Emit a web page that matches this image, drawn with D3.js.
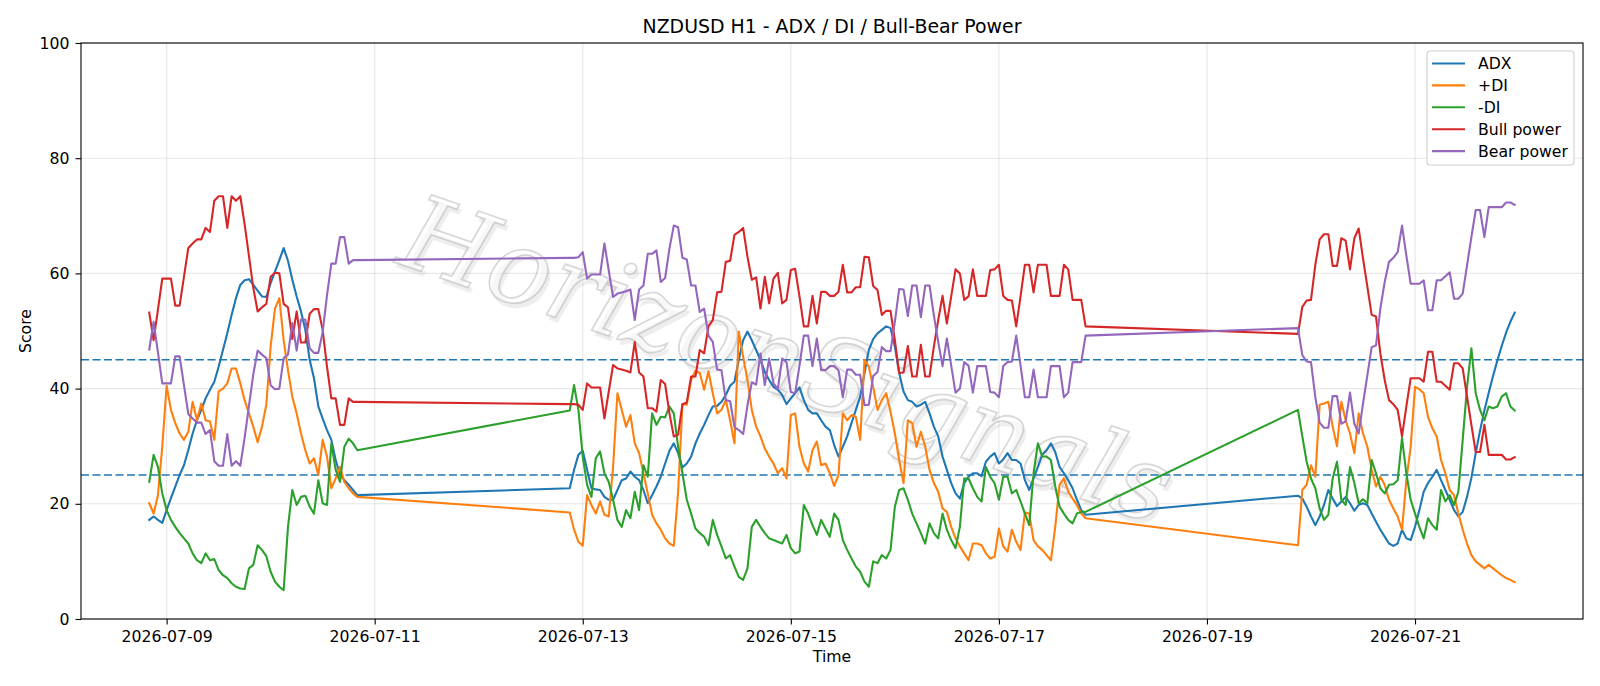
<!DOCTYPE html>
<html>
<head>
<meta charset="utf-8">
<script src="https://cdn.jsdelivr.net/npm/d3@7/dist/d3.min.js"></script>
<style>
  body { margin: 0; background: #fff; }
  svg { display: block; font-family: "DejaVu Sans", sans-serif; }
</style>
</head>
<body>
<div id="chart"></div>
<script>
// hourly bars, three trading sessions (weekend gaps in between)
var sessions = [
    { start: '2026-07-08T20:00:00Z', hours: 49 },
    { start: '2026-07-12T21:00:00Z', hours: 120 },
    { start: '2026-07-19T21:00:00Z', hours: 51 }
];

var adx = [
    17.2, 17.8, 17.2, 16.7, 18.9, 21.0, 23.0, 25.0, 26.7, 29.3, 32.2, 34.5, 36.3, 38.3, 39.8, 41.2, 43.8, 46.7, 49.6, 52.8,
    55.7, 58.0, 58.8, 59.0, 58.0, 57.0, 56.0, 55.9, 58.3, 60.3, 62.3, 64.4, 62.2, 58.9, 56.0, 53.4, 50.2, 45.0, 41.8, 36.9,
    34.8, 32.8, 31.1, 27.6, 25.0, 24.1, 23.3, 22.4, 21.5,
    22.7, 25.9, 28.5, 29.2, 25.9, 22.7, 22.5, 22.4, 21.2, 20.7, 20.7, 22.4, 24.1, 24.4, 25.6, 24.7, 24.1, 22.4, 20.1, 21.5,
    23.0, 24.7, 27.0, 29.2, 30.5, 28.8, 26.3, 27.0, 28.2, 30.5, 32.2, 33.7, 35.4, 36.9, 37.0, 37.7, 38.9, 40.5, 41.2, 45.0,
    48.4, 49.9, 48.4, 46.7, 45.0, 42.9, 41.5, 40.3, 39.8, 38.9, 37.3, 38.3, 39.2, 40.2, 38.0, 36.3, 35.7, 35.7, 34.5, 33.4,
    32.8, 30.2, 28.2, 29.9, 31.7, 34.0, 36.3, 38.6, 42.7, 46.7, 48.6, 49.6, 50.2, 50.8, 50.5, 47.3, 42.7, 39.5, 38.0, 37.7,
    36.9, 37.2, 37.7, 35.7, 33.4, 31.7, 28.2, 25.9, 23.6, 21.8, 20.9, 23.6, 24.7, 25.3, 25.3, 24.8, 27.3, 28.2, 28.8, 27.0,
    27.7, 28.8, 27.6, 27.6, 27.0, 24.1, 22.4, 24.4, 26.4, 28.5, 29.3, 30.5, 29.0, 26.4, 25.3, 24.1, 22.7, 20.7, 18.9, 18.1,
    21.4, 20.9, 19.5, 17.8, 16.3, 17.8, 19.8, 22.4, 20.9, 19.6, 20.4, 21.2, 20.1, 18.8, 19.8, 20.1, 19.8, 18.3, 16.9, 15.5,
    14.3, 13.1, 12.7, 13.1, 15.5, 14.0, 13.7, 16.0, 18.9, 22.1, 23.6, 24.7, 25.9, 24.1, 22.4, 20.7, 18.9, 17.8, 18.6, 21.2,
    24.5, 28.8, 32.7, 36.2, 39.3, 42.2, 44.9, 47.4, 49.7, 51.6, 53.2
];

var plusDI = [
    20.1, 18.3, 21.5, 29.9, 40.5, 36.3, 34.0, 32.2, 31.1, 32.5, 37.7, 34.5, 37.4, 34.5, 34.3, 31.1, 39.5, 40.0, 40.9, 43.5,
    43.5, 40.9, 38.0, 35.7, 33.4, 30.7, 33.4, 37.2, 47.3, 53.9, 55.7, 48.4, 43.2, 38.6, 35.7, 32.2, 29.3, 27.0, 27.9, 25.0,
    31.1, 28.2, 22.7, 24.4, 26.4, 23.8, 22.7, 21.8, 21.2,
    18.5, 15.5, 13.4, 12.7, 21.5, 19.8, 18.3, 20.4, 18.1, 17.8, 26.4, 39.2, 36.3, 33.4, 35.4, 30.5, 28.8, 25.3, 21.8, 18.1,
    16.6, 15.5, 14.0, 13.1, 12.7, 22.0, 37.3, 37.2, 41.5, 43.1, 42.7, 39.8, 43.0, 39.2, 35.7, 36.3, 38.0, 34.5, 30.5, 49.9,
    45.5, 41.5, 36.3, 33.4, 31.7, 29.6, 28.2, 27.0, 25.3, 26.2, 24.4, 35.4, 35.7, 29.9, 27.0, 25.6, 29.3, 30.8, 26.7, 27.0,
    25.3, 23.1, 25.0, 35.7, 34.5, 35.4, 35.1, 31.1, 45.0, 43.8, 40.3, 36.3, 38.0, 39.2, 36.0, 32.2, 27.6, 23.6, 34.5, 34.0,
    29.9, 32.5, 29.9, 25.9, 23.6, 22.1, 19.2, 18.6, 16.0, 14.0, 12.6, 11.4, 10.2, 13.1, 13.1, 12.8, 11.4, 10.5, 10.8, 15.7,
    12.6, 11.7, 15.5, 13.4, 12.0, 18.5, 18.3, 13.7, 12.6, 12.0, 11.1, 10.2, 16.0, 23.3, 24.4, 22.1, 20.9, 19.8, 18.3, 17.5,
    12.8, 22.4, 23.3, 26.7, 24.7, 37.2, 37.4, 37.7, 33.4, 30.0, 37.7, 34.5, 32.2, 28.8, 35.7, 32.2, 29.9, 25.9, 23.0, 24.7,
    23.3, 20.7, 19.2, 17.8, 15.5, 24.1, 29.9, 40.3, 39.9, 39.2, 35.1, 33.1, 31.7, 27.6, 25.3, 22.4, 21.5, 18.3, 15.5, 13.1,
    11.1, 10.0, 9.4, 8.8, 9.4, 8.8, 8.2, 7.6, 7.1, 6.8, 6.4
];

var minusDI = [
    23.8, 28.5, 26.4, 21.8, 18.9, 17.2, 16.0, 14.9, 14.0, 13.1, 11.4, 10.2, 9.7, 11.4, 10.2, 10.4, 8.5, 7.6, 7.1, 6.2,
    5.6, 5.3, 5.2, 8.8, 9.4, 12.8, 12.0, 10.9, 8.2, 6.5, 5.6, 5.0, 16.0, 22.4, 19.8, 21.2, 21.4, 19.5, 18.3, 24.1,
    20.1, 19.8, 30.5, 25.9, 23.8, 29.9, 31.3, 30.5, 29.3,
    36.2, 40.6, 36.3, 28.2, 23.3, 21.2, 27.9, 29.1, 25.3, 23.8, 20.7, 17.2, 16.0, 18.9, 17.5, 22.1, 18.9, 26.7, 24.7, 35.7,
    33.7, 35.1, 35.0, 36.9, 35.7, 29.9, 25.3, 20.7, 18.3, 15.7, 14.9, 14.3, 12.8, 17.2, 14.6, 12.6, 10.5, 11.1, 9.1, 7.3,
    6.8, 8.8, 16.0, 17.2, 16.0, 14.9, 14.0, 13.7, 13.4, 13.1, 14.6, 12.3, 11.4, 11.7, 19.8, 18.3, 16.3, 14.6, 17.2, 15.7,
    14.3, 18.3, 17.2, 13.7, 12.0, 10.5, 9.1, 8.2, 6.5, 5.6, 10.0, 9.7, 11.1, 10.5, 12.0, 19.5, 22.4, 22.7, 20.7, 18.3,
    16.6, 14.9, 13.1, 16.6, 14.9, 14.0, 18.3, 15.5, 13.7, 12.3, 16.0, 24.4, 24.4, 22.7, 21.2, 20.4, 26.4, 24.7, 23.6, 20.7,
    24.7, 24.7, 21.8, 22.4, 20.4, 18.3, 16.3, 25.3, 30.5, 28.2, 28.2, 27.6, 23.0, 19.5, 18.3, 17.2, 16.6, 18.3, 18.6, 18.6,
    36.3, 31.7, 27.3, 24.4, 22.7, 19.2, 17.2, 18.1, 24.4, 27.3, 20.7, 19.8, 26.4, 23.6, 20.1, 20.8, 20.1, 27.6, 25.3, 22.7,
    21.8, 23.3, 23.4, 24.1, 31.4, 25.3, 20.7, 18.3, 16.0, 14.0, 17.5, 16.3, 15.5, 22.4, 20.4, 21.5, 19.8, 22.1, 31.1, 40.3,
    47.0, 39.2, 36.3, 34.5, 36.9, 36.6, 36.9, 38.6, 39.2, 36.9, 36.2
];

var bullPower = [
    53.2, 48.4, 53.7, 59.1, 59.1, 59.1, 54.4, 54.4, 59.4, 64.4, 65.2, 65.9, 65.9, 67.9, 67.2, 72.6, 73.4, 73.4, 67.9, 73.4,
    72.6, 73.4, 68.5, 63.0, 57.5, 53.4, 54.1, 54.7, 59.4, 60.1, 60.0, 54.7, 54.1, 48.6, 53.4, 48.0, 48.0, 53.0, 53.8, 53.8,
    50.2, 43.8, 38.3, 38.3, 33.7, 33.7, 38.3, 37.7, 37.7,
    37.3, 37.3, 37.2, 36.3, 40.9, 40.2, 40.2, 40.2, 34.8, 39.5, 44.1, 43.5, 43.3, 43.1, 42.8, 48.1, 42.8, 42.1, 36.6, 36.6,
    36.0, 41.5, 40.8, 35.7, 31.7, 32.0, 37.3, 37.6, 42.1, 42.1, 46.7, 46.1, 50.8, 51.9, 56.7, 56.8, 62.0, 62.2, 66.7, 67.2,
    67.9, 62.9, 58.9, 59.3, 53.9, 59.4, 54.8, 59.1, 60.1, 54.8, 55.4, 60.6, 60.8, 56.0, 50.8, 50.8, 56.1, 51.3, 56.8, 56.8,
    56.1, 56.1, 56.8, 61.5, 56.7, 56.7, 57.6, 57.6, 62.9, 62.8, 57.8, 57.1, 52.8, 53.5, 53.5, 48.4, 42.7, 42.8, 47.4, 42.1,
    42.1, 47.6, 42.1, 42.1, 47.3, 51.9, 56.1, 51.3, 56.0, 60.7, 60.0, 55.4, 56.0, 60.7, 56.1, 56.1, 56.1, 60.6, 60.7, 61.5,
    56.1, 55.4, 55.3, 50.8, 56.0, 61.5, 61.5, 56.7, 61.5, 61.5, 61.5, 56.1, 56.1, 56.1, 61.5, 60.7, 55.4, 55.4, 55.4, 50.8,
    49.5, 54.2, 55.3, 55.4, 61.5, 65.9, 66.8, 66.8, 61.3, 61.3, 66.1, 65.7, 60.7, 66.1, 67.8, 62.6, 57.7, 52.8, 52.5, 46.1,
    41.5, 38.0, 37.3, 36.3, 31.7, 36.9, 41.8, 41.8, 41.8, 41.2, 46.4, 46.4, 41.2, 41.2, 40.5, 39.8, 44.4, 44.4, 43.5, 38.6,
    33.7, 29.0, 29.0, 33.7, 28.5, 28.5, 28.5, 28.5, 27.7, 27.7, 28.1
];

var bearPower = [
    46.8, 51.6, 46.3, 40.9, 40.9, 40.9, 45.6, 45.6, 40.6, 35.6, 34.8, 34.1, 34.1, 32.1, 32.8, 27.4, 26.6, 26.6, 32.1, 26.6,
    27.4, 26.6, 31.5, 37.0, 42.5, 46.6, 45.9, 45.3, 40.6, 39.9, 40.0, 45.3, 45.9, 51.4, 46.6, 52.0, 52.0, 47.0, 46.2, 46.2,
    49.8, 56.2, 61.7, 61.7, 66.3, 66.3, 61.7, 62.3, 62.3,
    62.7, 62.7, 62.8, 63.7, 59.1, 59.8, 59.8, 59.8, 65.2, 60.5, 55.9, 56.5, 56.7, 56.9, 57.2, 51.9, 57.2, 57.9, 63.4, 63.4,
    64.0, 58.5, 59.2, 64.3, 68.3, 68.0, 62.7, 62.4, 57.9, 57.9, 53.3, 53.9, 49.2, 48.1, 43.3, 43.2, 38.0, 37.8, 33.3, 32.8,
    32.1, 37.1, 41.1, 40.7, 46.1, 40.6, 45.2, 40.9, 39.9, 45.2, 44.6, 39.4, 39.2, 44.0, 49.2, 49.2, 43.9, 48.7, 43.2, 43.2,
    43.9, 43.9, 43.2, 38.5, 43.3, 43.3, 42.4, 42.4, 37.1, 37.2, 42.2, 42.9, 47.2, 46.5, 46.5, 51.6, 57.3, 57.2, 52.6, 57.9,
    57.9, 52.4, 57.9, 57.9, 52.7, 48.1, 43.9, 48.7, 44.0, 39.3, 40.0, 44.6, 44.0, 39.3, 43.9, 43.9, 43.9, 39.4, 39.3, 38.5,
    43.9, 44.6, 44.7, 49.2, 44.0, 38.5, 38.5, 43.3, 38.5, 38.5, 38.5, 43.9, 43.9, 43.9, 38.5, 39.3, 44.6, 44.6, 44.6, 49.2,
    50.5, 45.8, 44.7, 44.6, 38.5, 34.1, 33.2, 33.2, 38.7, 38.7, 33.9, 34.3, 39.3, 33.9, 32.2, 37.4, 42.3, 47.2, 47.5, 53.9,
    58.5, 62.0, 62.7, 63.7, 68.3, 63.1, 58.2, 58.2, 58.2, 58.8, 53.6, 53.6, 58.8, 58.8, 59.5, 60.2, 55.6, 55.6, 56.5, 61.4,
    66.3, 71.0, 71.0, 66.3, 71.5, 71.5, 71.5, 71.5, 72.3, 72.3, 71.9
];

var seriesNames = ['ADX', '+DI', '-DI', 'Bull power', 'Bear power'];
var seriesColors = ['#1f77b4', '#ff7f0e', '#2ca02c', '#d62728', '#9467bd'];
var levels = [25, 45];
var yTicks = [0, 20, 40, 60, 80, 100];

var W = 1600, H = 686;
var margin = { top: 43, right: 17, bottom: 67, left: 81 };
var fs = 15.7;

// timestamps for every bar
var times = [];
sessions.forEach(function (s) {
    var t0 = new Date(s.start);
    for (var i = 0; i < s.hours; i++) times.push(d3.utcHour.offset(t0, i));
});

var series = [adx, plusDI, minusDI, bullPower, bearPower].map(function (vals, i) {
    return {
        name: seriesNames[i],
        color: seriesColors[i],
        points: vals.map(function (v, j) { return { t: times[j], v: v }; })
    };
});

var tMin = times[0], tMax = times[times.length - 1];
var pad = (tMax - tMin) * 0.05;

var x = d3.scaleUtc()
    .domain([new Date(+tMin - pad), new Date(+tMax + pad)])
    .range([margin.left, W - margin.right]);
var y = d3.scaleLinear()
    .domain([0, 100])
    .range([H - margin.bottom, margin.top]);

var svg = d3.select('#chart').append('svg')
    .attr('width', W)
    .attr('height', H);

svg.append('rect').attr('width', W).attr('height', H).attr('fill', '#fff');

var xTicks = d3.utcDay.every(2).range(x.domain()[0], x.domain()[1]);

// grid
svg.append('g').selectAll('line')
    .data(xTicks)
    .enter().append('line')
    .attr('x1', function (d) { return x(d); })
    .attr('x2', function (d) { return x(d); })
    .attr('y1', margin.top)
    .attr('y2', H - margin.bottom)
    .attr('stroke', '#b0b0b0')
    .attr('stroke-opacity', 0.3)
    .attr('stroke-width', 1.1);
svg.append('g').selectAll('line')
    .data(yTicks)
    .enter().append('line')
    .attr('x1', margin.left)
    .attr('x2', W - margin.right)
    .attr('y1', function (d) { return y(d); })
    .attr('y2', function (d) { return y(d); })
    .attr('stroke', '#b0b0b0')
    .attr('stroke-opacity', 0.3)
    .attr('stroke-width', 1.1);

// watermark: soft shadow + outlined text
var wm = svg.append('g').attr('transform', 'translate(785,368) rotate(19)');
wm.append('text')
    .attr('x', 4).attr('y', 4)
    .attr('text-anchor', 'middle')
    .attr('dominant-baseline', 'middle')
    .style('font-family', '"DejaVu Serif", serif')
    .style('font-style', 'italic')
    .style('font-size', '104px')
    .attr('fill', '#bdbdbd')
    .attr('fill-opacity', 0.25)
    .text('HorizonSignals');
wm.append('text')
    .attr('text-anchor', 'middle')
    .attr('dominant-baseline', 'middle')
    .style('font-family', '"DejaVu Serif", serif')
    .style('font-style', 'italic')
    .style('font-size', '104px')
    .attr('fill', '#ffffff')
    .attr('fill-opacity', 0.55)
    .attr('stroke', '#a0a0a0')
    .attr('stroke-opacity', 0.4)
    .attr('stroke-width', 1.8)
    .text('HorizonSignals');

// reference levels
svg.append('g').selectAll('line')
    .data(levels)
    .enter().append('line')
    .attr('x1', margin.left)
    .attr('x2', W - margin.right)
    .attr('y1', function (d) { return y(d); })
    .attr('y2', function (d) { return y(d); })
    .attr('stroke', '#1f77b4')
    .attr('stroke-width', 1.6)
    .attr('stroke-dasharray', '8,3.5');

var line = d3.line()
    .x(function (d) { return x(d.t); })
    .y(function (d) { return y(d.v); });

svg.append('g').selectAll('path')
    .data(series)
    .enter().append('path')
    .attr('d', function (d) { return line(d.points); })
    .attr('fill', 'none')
    .attr('stroke', function (d) { return d.color; })
    .attr('stroke-width', 2.1)
    .attr('stroke-linejoin', 'round')
    .attr('stroke-linecap', 'square');

// axes
var xAxis = svg.append('g')
    .attr('transform', 'translate(0,' + (H - margin.bottom) + ')')
    .call(d3.axisBottom(x).tickValues(xTicks).tickFormat(d3.utcFormat('%Y-%m-%d')).tickSize(5.5).tickPadding(6));
var yAxis = svg.append('g')
    .attr('transform', 'translate(' + margin.left + ',0)')
    .call(d3.axisLeft(y).tickValues(yTicks).tickSize(5.5).tickPadding(6));
[xAxis, yAxis].forEach(function (g) {
    g.select('.domain').remove();
    g.selectAll('line').attr('stroke', '#000').attr('stroke-width', 1.1);
    g.selectAll('text').attr('fill', '#000').style('font-size', fs + 'px').style('font-family', '"DejaVu Sans", sans-serif');
});

// frame
svg.append('rect')
    .attr('x', margin.left)
    .attr('y', margin.top)
    .attr('width', W - margin.left - margin.right)
    .attr('height', H - margin.top - margin.bottom)
    .attr('fill', 'none')
    .attr('stroke', '#000')
    .attr('stroke-width', 1.1);

// labels
svg.append('text')
    .attr('x', (margin.left + W - margin.right) / 2)
    .attr('y', 33)
    .attr('text-anchor', 'middle')
    .style('font-size', '18.9px')
    .text('NZDUSD H1 - ADX / DI / Bull-Bear Power');
svg.append('text')
    .attr('x', (margin.left + W - margin.right) / 2)
    .attr('y', 662)
    .attr('text-anchor', 'middle')
    .style('font-size', fs + 'px')
    .text('Time');
svg.append('text')
    .attr('transform', 'translate(31,' + ((margin.top + H - margin.bottom) / 2) + ') rotate(-90)')
    .attr('text-anchor', 'middle')
    .style('font-size', fs + 'px')
    .text('Score');

// legend
var legend = svg.append('g').attr('transform', 'translate(1427,51)');
legend.append('rect')
    .attr('width', 147)
    .attr('height', 114)
    .attr('rx', 3)
    .attr('fill', '#fff')
    .attr('fill-opacity', 0.8)
    .attr('stroke', '#d0d0d0')
    .attr('stroke-width', 1.1);
var item = legend.selectAll('.item')
    .data(series)
    .enter().append('g')
    .attr('class', 'item')
    .attr('transform', function (d, i) { return 'translate(0,' + (12.5 + i * 21.9) + ')'; });
item.append('line')
    .attr('x1', 5).attr('x2', 38)
    .attr('stroke', function (d) { return d.color; })
    .attr('stroke-width', 2.1);
item.append('text')
    .attr('x', 51)
    .attr('dy', '0.35em')
    .style('font-size', fs + 'px')
    .text(function (d) { return d.name; });
</script>
</body>
</html>
